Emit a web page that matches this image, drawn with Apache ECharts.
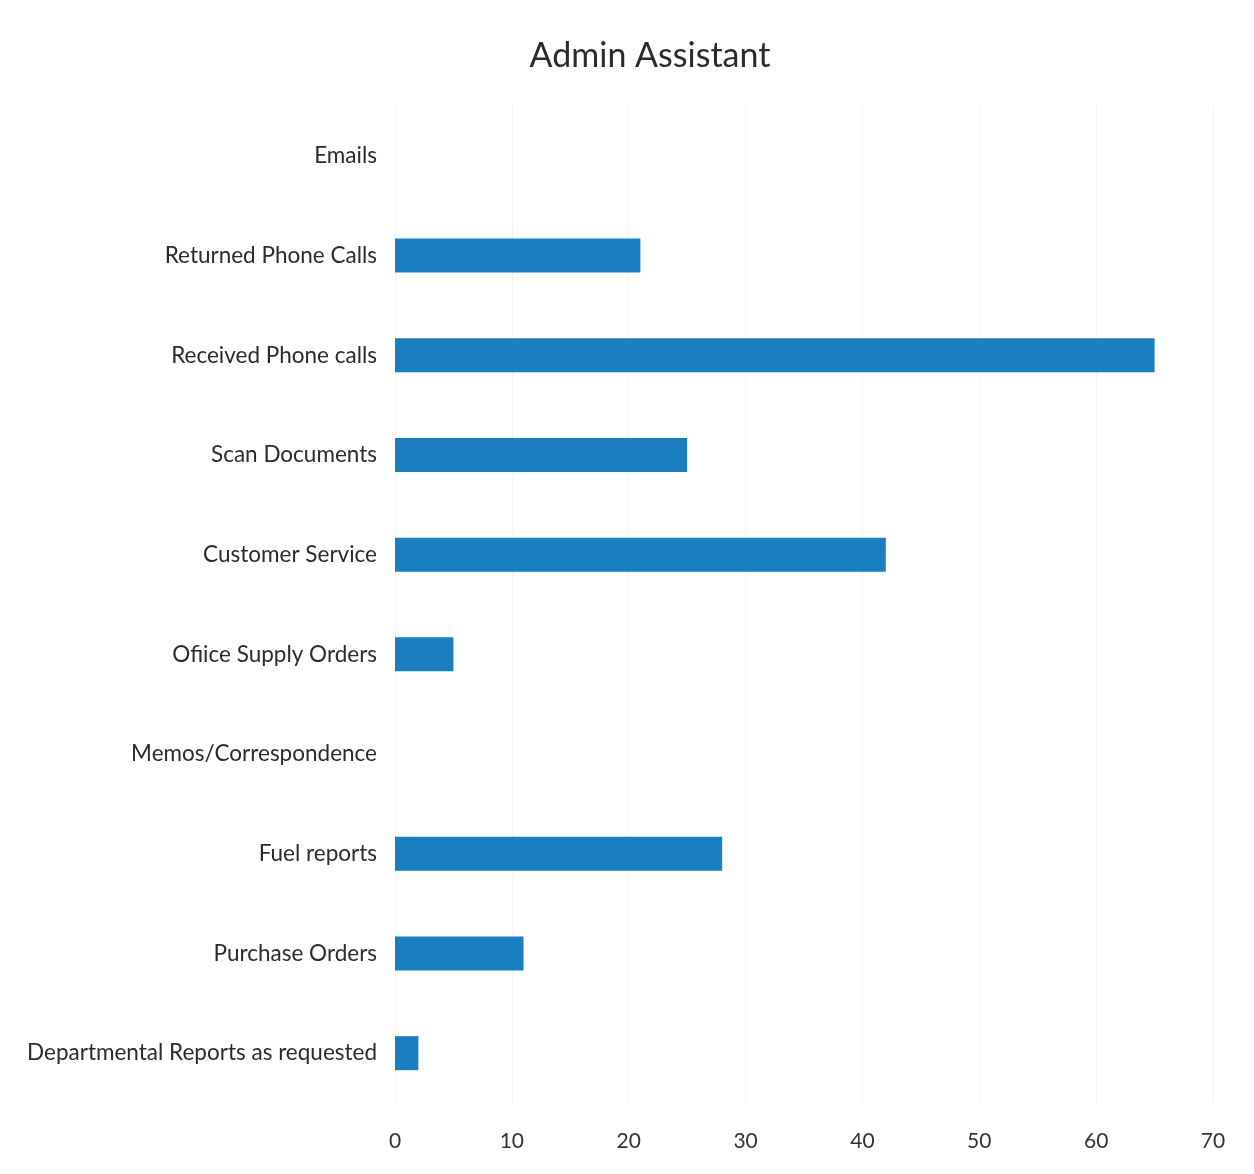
<!DOCTYPE html>
<html>
<head>
<meta charset="utf-8">
<script src="https://cdn.jsdelivr.net/npm/echarts@6/dist/echarts.min.js"></script>
<style>
  html, body { margin: 0; padding: 0; background: #fff; }
  #main { width: 1254px; height: 1174px; }
</style>
</head>
<body>
<div id="main"></div>
<script>
var categories = [
  'Emails',
  'Returned Phone Calls',
  'Received Phone calls',
  'Scan Documents',
  'Customer Service',
  'Ofiice Supply Orders',
  'Memos/Correspondence',
  'Fuel reports',
  'Purchase Orders',
  'Departmental Reports as requested'
];
var values = [0, 21, 65, 25, 42, 5, 0, 28, 11, 2];
var xTicks = [0, 10, 20, 30, 40, 50, 60, 70];

var myChart = echarts.init(document.getElementById('main'));
myChart.setOption({
  backgroundColor: '#fff',
  animation: false,
  title: {
    text: 'Admin Assistant',
    left: 645,
    textAlign: 'center',
    top: 34,
    textStyle: { fontFamily: 'Lato', fontSize: 34, fontWeight: 'normal', color: '#2b2b2b' }
  },
  grid: { left: 395, right: 41, top: 106, bottom: 71 },
  xAxis: {
    type: 'value',
    min: xTicks[0],
    max: xTicks[xTicks.length - 1],
    interval: 10,
    axisLine: { show: false },
    axisTick: { show: false },
    splitLine: { lineStyle: { color: '#f3f3f3', width: 1 } },
    axisLabel: { margin: 28, fontFamily: 'Lato', fontSize: 21, color: '#333' }
  },
  yAxis: {
    type: 'category',
    inverse: true,
    data: categories,
    axisLine: { show: false },
    axisTick: { show: false },
    axisLabel: { margin: 18, fontFamily: 'Lato', fontSize: 22.5, color: '#2b2b2b' }
  },
  series: [{
    type: 'bar',
    data: values,
    barWidth: 34,
    itemStyle: { color: '#1a7fc0' }
  }]
});
</script>
</body>
</html>
